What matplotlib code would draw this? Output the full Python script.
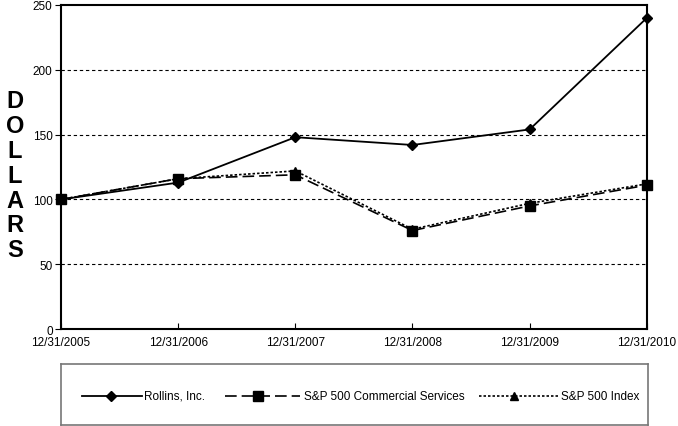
import matplotlib
matplotlib.use("Agg")
import matplotlib.pyplot as plt

plt.rcParams['font.family'] = ['Liberation Sans', 'DejaVu Sans']

# data
dates = ["12/31/2005", "12/31/2006", "12/31/2007", "12/31/2008", "12/31/2009", "12/31/2010"]
rollins = [100, 113, 148, 142, 154, 240]
commercial = [100, 116, 119, 76, 95, 111]
sp500 = [100, 116, 122, 77, 97, 112]
yticks = [0, 50, 100, 150, 200, 250]
labels = ["Rollins, Inc.", "S&P 500 Commercial Services", "S&P 500 Index"]

styles = [
    dict(ls="-", lw=1.3, marker="D", ms=5),
    dict(ls=(0, (7, 3)), lw=1.2, marker="s", ms=7),
    dict(ls=(0, (1.5, 1.2)), lw=1.2, marker="^", ms=6),
]

fig = plt.figure(figsize=(6.78, 4.27), dpi=100)
ax = fig.add_axes([0.090, 0.227, 0.864, 0.759])

x = list(range(len(dates)))
ax.plot(x, sp500, color="black", clip_on=False, zorder=3, **styles[2])
ax.plot(x, commercial, color="black", clip_on=False, zorder=4, **styles[1])
ax.plot(x, rollins, color="black", clip_on=False, zorder=5, **styles[0])

for v in yticks[1:-1]:
    ax.axhline(v, color="black", lw=0.8, ls=(0, (3, 2.5)), zorder=1)

ax.set_xlim(0, 5)
ax.set_ylim(0, 250)
ax.set_xticks(x)
ax.set_xticklabels(dates)
ax.set_yticks(yticks)
ax.tick_params(axis="x", direction="in", length=4, width=0.8, labelsize=8.5, pad=5)
ax.tick_params(axis="y", direction="out", length=4, width=0.8, labelsize=8.5, pad=2)
for s in ax.spines.values():
    s.set_linewidth(1.5)

fig.text(0.022, 0.587, "D\nO\nL\nL\nA\nR\nS", fontsize=17, fontweight="bold",
         ha="center", va="center", linespacing=1.1)

# legend box, drawn by hand in pixel units of the box
lax = fig.add_axes([0.090, 0.003, 0.866, 0.142])
lax.set_xlim(0, 587)
lax.set_ylim(0, 61)
lax.set_xticks([])
lax.set_yticks([])
for s in lax.spines.values():
    s.set_color("#777777")
    s.set_linewidth(1.2)

entries = [(21, 81, 50, 83), (164, 239, 197, 243), (418, 497, 453, 500)]
for (x0, x1, xm, xt), st, lab in zip(entries, styles, labels):
    lax.plot([x0, x1], [29, 29], color="black", ls=st["ls"], lw=st["lw"])
    lax.plot([xm], [29], color="black", marker=st["marker"], ms=st["ms"], ls="none")
    lax.text(xt, 29, lab, fontsize=8.5, va="center", ha="left")

fig.savefig("out.png", dpi=100)
